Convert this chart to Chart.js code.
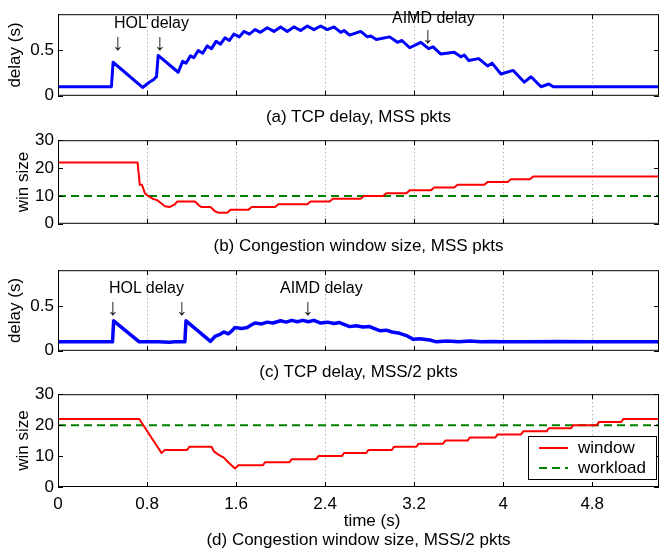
<!DOCTYPE html>
<html lang="en">
<head>
<meta charset="UTF-8">
<title>TCP delay and congestion window</title>
<script src="https://cdn.jsdelivr.net/npm/chart.js"></script>
<style>
  body { margin: 0; background: #fff; font-family: "Liberation Sans", Arial, sans-serif; }
  #fig { position: relative; width: 662px; height: 553px; overflow: hidden; }
  canvas { position: absolute; left: 0; }
  .txt { position: absolute; font-size: 16px; line-height: 18px; color: #000; white-space: nowrap; }
  .arr { position: absolute; width: 20px; text-align: center; font-size: 23px; line-height: 24px; color: #222; }
  .cap { position: absolute; left: 58px; width: 601px; text-align: center; font-size: 17px; line-height: 20px; color: #000; }
</style>
</head>
<body>
<div id="fig">
  <canvas id="c1" width="662" height="110" style="top:0px"></canvas>
  <canvas id="c2" width="662" height="112" style="top:126px"></canvas>
  <canvas id="c3" width="662" height="109" style="top:256px"></canvas>
  <canvas id="c4" width="662" height="140" style="top:380px"></canvas>

  <!-- annotations -->
  <div class="txt" style="left:114px;top:14px">HOL delay</div>
  <div class="arr" style="left:108px;top:30px">↓</div>
  <div class="arr" style="left:150px;top:30px">↓</div>
  <div class="txt" style="left:392px;top:9px">AIMD delay</div>
  <div class="arr" style="left:418px;top:23px">↓</div>

  <div class="txt" style="left:109px;top:279px">HOL delay</div>
  <div class="arr" style="left:103px;top:295px">↓</div>
  <div class="arr" style="left:172px;top:295px">↓</div>
  <div class="txt" style="left:280px;top:279px">AIMD delay</div>
  <div class="arr" style="left:298px;top:295px">↓</div>

  <!-- captions -->
  <div class="cap" style="top:107px">(a) TCP delay, MSS pkts</div>
  <div class="cap" style="top:236px">(b) Congestion window size, MSS pkts</div>
  <div class="cap" style="top:362px">(c) TCP delay, MSS/2 pkts</div>
  <div class="cap" style="left:332px;width:80px;top:511px">time (s)</div>
  <div class="cap" style="top:530px">(d) Congestion window size, MSS/2 pkts</div>
</div>

<script>
  // axis ticks
  const xTicks = [0, 0.8, 1.6, 2.4, 3.2, 4, 4.8];
  const xTickLabels = ['0', '0.8', '1.6', '2.4', '3.2', '4', '4.8'];
  const delayTicks = [0, 0.5];
  const delayTickLabels = ['0', '0.5'];
  const winTicks = [0, 10, 20, 30];
  const winTickLabels = ['0', '10', '20', '30'];

  // (a) TCP delay, MSS pkts  [time s, delay s]
  const delayMss = [
    [0, 0.10], [0.48, 0.10], [0.495, 0.37], [0.76, 0.092], [0.82, 0.15], [0.86, 0.18],
    [0.875, 0.20], [0.885, 0.21], [0.90, 0.445], [1.08, 0.26],
    [1.12, 0.38], [1.15, 0.36], [1.19, 0.44], [1.22, 0.42], [1.26, 0.50], [1.30, 0.47],
    [1.34, 0.55], [1.38, 0.52], [1.42, 0.60], [1.46, 0.57], [1.50, 0.64], [1.54, 0.61],
    [1.58, 0.68], [1.63, 0.65], [1.67, 0.71], [1.72, 0.68], [1.77, 0.73], [1.82, 0.70],
    [1.88, 0.75], [1.94, 0.71], [2.00, 0.76], [2.06, 0.71], [2.12, 0.76], [2.18, 0.72],
    [2.24, 0.77], [2.30, 0.73], [2.36, 0.77], [2.42, 0.73], [2.48, 0.76],
    [2.54, 0.70], [2.57, 0.72], [2.62, 0.67], [2.72, 0.71], [2.78, 0.65], [2.81, 0.66],
    [2.86, 0.62], [2.98, 0.65], [3.05, 0.59], [3.09, 0.61], [3.16, 0.53], [3.26, 0.59],
    [3.33, 0.52], [3.37, 0.54], [3.44, 0.46], [3.56, 0.48], [3.62, 0.43], [3.65, 0.45],
    [3.69, 0.39], [3.78, 0.41], [3.86, 0.33], [3.90, 0.36], [3.98, 0.24], [4.09, 0.28],
    [4.19, 0.15], [4.25, 0.21], [4.34, 0.10], [4.41, 0.13], [4.45, 0.10], [5.4, 0.10]
  ];

  // (b) congestion window, MSS pkts
  const winMss = [
    [0, 22], [0.715, 22], [0.735, 14], [0.755, 14], [0.78, 11], [0.81, 10], [0.85, 9],
    [0.89, 8.5], [0.93, 7.3], [0.96, 6.3], [1.0, 6], [1.05, 7], [1.07, 8], [1.23, 8],
    [1.27, 6.5], [1.29, 6], [1.37, 6], [1.41, 4.5], [1.44, 4], [1.52, 4], [1.55, 5],
    [1.71, 5], [1.74, 6], [1.95, 6], [1.98, 7], [2.24, 7], [2.27, 8], [2.44, 8],
    [2.47, 9], [2.72, 9], [2.75, 10], [2.92, 10], [2.95, 11], [3.13, 11], [3.16, 12],
    [3.35, 12], [3.38, 13], [3.56, 13], [3.59, 14], [3.83, 14], [3.86, 15], [4.04, 15],
    [4.07, 16], [4.24, 16], [4.27, 17], [5.4, 17]
  ];
  const workloadMss = [[0, 10], [5.4, 10]];

  // (c) TCP delay, MSS/2 pkts
  const delayHalf = [
    [0, 0.10], [0.49, 0.10], [0.50, 0.335], [0.73, 0.10], [0.90, 0.10], [1.0, 0.095],
    [1.05, 0.10], [1.14, 0.10], [1.15, 0.335], [1.37, 0.105], [1.41, 0.16], [1.45, 0.18],
    [1.49, 0.21], [1.53, 0.19], [1.56, 0.22], [1.59, 0.26], [1.65, 0.25], [1.70, 0.26],
    [1.74, 0.29], [1.77, 0.31], [1.83, 0.30], [1.88, 0.32], [1.93, 0.31], [2.0, 0.335],
    [2.05, 0.32], [2.1, 0.34], [2.15, 0.325], [2.2, 0.34], [2.25, 0.325], [2.3, 0.34],
    [2.36, 0.31], [2.42, 0.32], [2.48, 0.305], [2.53, 0.315], [2.58, 0.29], [2.62, 0.27],
    [2.68, 0.28], [2.74, 0.265], [2.80, 0.27], [2.85, 0.245], [2.89, 0.225], [2.95, 0.23],
    [3.0, 0.21], [3.07, 0.195], [3.13, 0.17], [3.19, 0.13], [3.25, 0.135], [3.34, 0.12],
    [3.40, 0.10], [3.5, 0.11], [3.6, 0.10], [3.7, 0.11], [3.8, 0.10], [3.9, 0.105],
    [4.0, 0.10], [4.2, 0.10], [4.5, 0.105], [4.8, 0.10], [5.4, 0.10]
  ];

  // (d) congestion window, MSS/2 pkts
  const winHalf = [
    [0, 22], [0.73, 22], [0.93, 11], [0.96, 12], [1.16, 12], [1.18, 13], [1.38, 13],
    [1.40, 11.5], [1.44, 10.5], [1.49, 9.5], [1.53, 8], [1.59, 6], [1.62, 7], [1.84, 7],
    [1.86, 8], [2.08, 8], [2.10, 9], [2.32, 9], [2.34, 10], [2.55, 10], [2.57, 11],
    [2.77, 11], [2.79, 12], [3.00, 12], [3.02, 13], [3.22, 13], [3.24, 14], [3.46, 14],
    [3.48, 15], [3.68, 15], [3.70, 16], [3.93, 16], [3.95, 17], [4.16, 17], [4.18, 18],
    [4.39, 18], [4.41, 19], [4.61, 19], [4.63, 20], [4.84, 20], [4.86, 21], [5.06, 21],
    [5.08, 22], [5.4, 22]
  ];
  const workloadHalf = [[0, 20], [5.4, 20]];

  const toXY = arr => arr.map(p => ({ x: p[0], y: p[1] }));
  const FONT = '"Liberation Sans", Arial, sans-serif';
  Chart.defaults.font.family = FONT;

  // matlab style box with inward ticks
  const boxPlugin = {
    id: 'box',
    afterDatasetsDraw(chart) {
      const { ctx, chartArea: a, scales: { x, y } } = chart;
      ctx.save();
      ctx.strokeStyle = '#000';
      ctx.lineWidth = 1;
      ctx.strokeRect(a.left + 0.5, a.top + 0.5, a.right - a.left - 1, a.bottom - a.top - 1);
      ctx.beginPath();
      x.ticks.forEach(t => {
        const px = Math.round(x.getPixelForValue(t.value)) + 0.5;
        ctx.moveTo(px, a.bottom); ctx.lineTo(px, a.bottom - 5);
        ctx.moveTo(px, a.top); ctx.lineTo(px, a.top + 5);
      });
      y.ticks.forEach(t => {
        const py = Math.round(y.getPixelForValue(t.value)) + 0.5;
        ctx.moveTo(a.left, py); ctx.lineTo(a.left + 5, py);
        ctx.moveTo(a.right, py); ctx.lineTo(a.right - 5, py);
      });
      ctx.stroke();
      ctx.restore();
    }
  };

  // legend box in lower right corner of panel (d)
  const legendPlugin = {
    id: 'boxLegend',
    afterDraw(chart) {
      const { ctx, chartArea: a } = chart;
      const w = 129, h = 44;
      const left = a.right - 2 - w, top = a.bottom - 7 - h;
      ctx.save();
      ctx.fillStyle = '#fff';
      ctx.fillRect(left, top, w, h);
      ctx.strokeStyle = '#000';
      ctx.lineWidth = 1;
      ctx.strokeRect(left + 0.5, top + 0.5, w - 1, h - 1);
      ctx.font = '17px ' + FONT;
      ctx.textBaseline = 'middle';
      chart.data.datasets.forEach((ds, i) => {
        const yy = top + 12 + i * 20;
        ctx.strokeStyle = ds.borderColor;
        ctx.lineWidth = ds.borderWidth;
        ctx.setLineDash(ds.borderDash || []);
        ctx.beginPath();
        ctx.moveTo(left + 11, yy);
        ctx.lineTo(left + 40, yy);
        ctx.stroke();
        ctx.setLineDash([]);
        ctx.fillStyle = '#000';
        ctx.fillText(ds.label, left + 50, yy);
      });
      ctx.restore();
    }
  };

  function makeChart(id, datasets, opts) {
    return new Chart(document.getElementById(id), {
      type: 'line',
      data: { datasets: datasets },
      options: {
        responsive: false,
        animation: false,
        layout: { padding: { top: opts.padTop, right: 3, left: 0, bottom: 0 } },
        plugins: { legend: { display: false }, tooltip: { enabled: false } },
        elements: { point: { radius: 0 }, line: { tension: 0, borderJoinStyle: 'round' } },
        scales: {
          x: {
            type: 'linear', min: 0, max: 5.4,
            afterBuildTicks: s => { s.ticks = xTicks.map(v => ({ value: v })); },
            afterFit: s => { s.height = opts.xHeight; },
            grid: { color: '#999', lineWidth: 1, drawTicks: false },
            border: { display: false, dash: [1, 3] },
            ticks: {
              display: opts.showX, color: '#000', font: { size: 17 }, padding: 7,
              autoSkip: false, maxRotation: 0,
              callback: (v, i) => xTickLabels[i]
            }
          },
          y: {
            type: 'linear', min: 0, max: opts.yMax,
            afterBuildTicks: s => { s.ticks = opts.yTicks.map(v => ({ value: v })); },
            afterFit: s => { s.width = 58; },
            grid: { display: false, drawTicks: false },
            border: { display: false },
            ticks: { color: '#000', font: { size: 17 }, padding: 4, callback: (v, i) => opts.yLabels[i] },
            title: {
              display: true, text: opts.yTitle, color: '#000', font: { size: 17 },
              padding: { top: opts.titlePad, bottom: 0 }
            }
          }
        }
      },
      plugins: opts.plugins
    });
  }

  const blue = (data, w) => ({ data: toXY(data), borderColor: '#0000ff', borderWidth: w, fill: false });
  const red = (data) => ({ label: 'window', data: toXY(data), borderColor: '#ff0000', borderWidth: 2, fill: false });
  const green = (data) => ({ label: 'workload', data: toXY(data), borderColor: '#008000', borderWidth: 2, borderDash: [8, 5], fill: false });

  makeChart('c1', [blue(delayMss, 3)], {
    padTop: 8, xHeight: 6, showX: false, yMax: 0.9, yTicks: delayTicks, yLabels: delayTickLabels,
    yTitle: 'delay (s)', titlePad: 5, plugins: [boxPlugin]
  });
  makeChart('c2', [red(winMss), green(workloadMss)], {
    padTop: 9, xHeight: 6, showX: false, yMax: 30, yTicks: winTicks, yLabels: winTickLabels,
    yTitle: 'win size', titlePad: 13, plugins: [boxPlugin]
  });
  makeChart('c3', [blue(delayHalf, 3.5)], {
    padTop: 8, xHeight: 6, showX: false, yMax: 0.9, yTicks: delayTicks, yLabels: delayTickLabels,
    yTitle: 'delay (s)', titlePad: 5, plugins: [boxPlugin]
  });
  makeChart('c4', [red(winHalf), green(workloadHalf)], {
    padTop: 10, xHeight: 33, showX: true, yMax: 30, yTicks: winTicks, yLabels: winTickLabels,
    yTitle: 'win size', titlePad: 13, plugins: [boxPlugin, legendPlugin]
  });
</script>
</body>
</html>
